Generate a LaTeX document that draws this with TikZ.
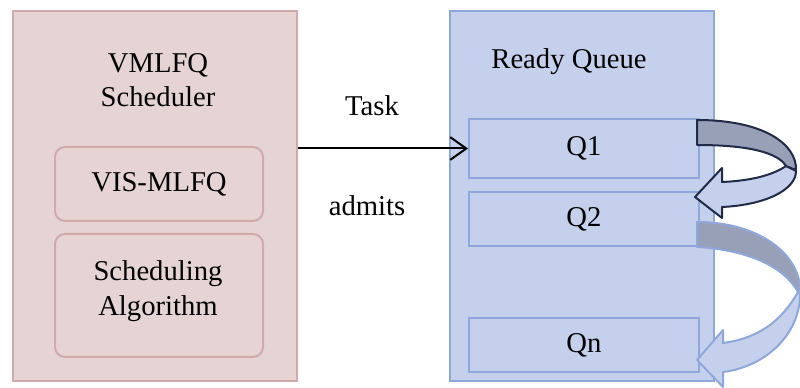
\documentclass[tikz,border=0pt]{standalone}
\usepackage{fontspec}
\setmainfont{Liberation Serif}
\usetikzlibrary{arrows.meta}
\definecolor{pinkfill}{HTML}{E6D4D5}
\definecolor{pinkline}{HTML}{D0A9AA}
\definecolor{bluefill}{HTML}{C5D0EC}
\definecolor{blueline}{HTML}{8EA8DB}
\definecolor{bandfill}{HTML}{98A0B8}
\definecolor{navyline}{HTML}{1F2B47}
\begin{document}
\begin{tikzpicture}[x=0.75pt,y=-0.75pt,
  every node/.style={font=\fontsize{21.5}{26}\selectfont, align=center, inner sep=0pt},
  box/.style={draw, line width=1.5pt, anchor=north west},
  lbox/.style={box, fill=pinkfill, draw=pinkline},
  rbox/.style={box, fill=bluefill, draw=blueline},
  roundbox/.style={lbox, rounded corners=7.5pt},
  lbl/.style={anchor=base},
  taskarrow/.style={line width=1.5pt, -{Straight Barb[length=12pt,width=17pt,line width=1.5pt]}},
  bandone/.style={line width=1.5pt, draw=navyline, line join=round},
  bandtwo/.style={line width=1.5pt, draw=blueline, line join=round}]
\useasboundingbox (0,0) rectangle (800,388);
\begin{scope}
\clip (0,0) rectangle (800,388);
% left block
\node[lbox, minimum width=213pt, minimum height=277.5pt] (L) at (12,10) {};
\node (Ltitle) at (158,80) {VMLFQ\\Scheduler};
\node[roundbox, minimum width=156pt, minimum height=55.5pt] (VIS) at (54,146) {VIS-MLFQ};
\node[roundbox, minimum width=156pt, minimum height=92.25pt] (SA) at (54,233) {};
\node (SAtext) at (158,291) {Scheduling\\Algorithm};
% right block
\node[rbox, minimum width=198pt, minimum height=277.5pt] (R) at (449,10) {};
\node[lbl] (Rtitle) at (569,69) {Ready Queue};
\node[rbox, minimum width=172.5pt, minimum height=44.25pt] (Q1) at (468,118) {Q1};
\node[rbox, minimum width=172.5pt, minimum height=40.5pt] (Q2) at (468,191) {Q2};
\node[rbox, minimum width=172.5pt, minimum height=40.5pt] (Qn) at (468,317) {Qn};
% task arrow
\draw[taskarrow] (L.east |- Q1.west) -- (Q1.west);
\node[lbl] (task) at (372,116) {Task};
\node[lbl] (admits) at (367,216) {admits};
% curved arrow Q1 -> Q2
\filldraw[bandone, fill=bluefill]
  (786,166) .. controls (770,177) and (745,181) .. (722,182)
  -- (722,168) -- (695,197) -- (722,218) -- (722,207)
  .. controls (765,205) and (796,190) .. (796,171) -- cycle;
\filldraw[bandone, fill=bandfill]
  (697,120) .. controls (765,120) and (797,145) .. (796,170)
  -- (786,166) .. controls (778,153) and (750,145) .. (697,145) -- cycle;
% curved arrow Q2 -> Qn
\filldraw[bandtwo, fill=bluefill]
  (798,292) .. controls (782,320) and (760,338) .. (723,343)
  -- (723,330) -- (697,360) -- (723,387) -- (723,372)
  .. controls (770,366) and (801,330) .. (800,293) -- cycle;
\filldraw[bandtwo, fill=bandfill]
  (697,222) .. controls (760,222) and (800,255) .. (800,290)
  -- (798,292) .. controls (785,268) and (750,250) .. (697,247) -- cycle;
\end{scope}
\end{tikzpicture}
\end{document}
